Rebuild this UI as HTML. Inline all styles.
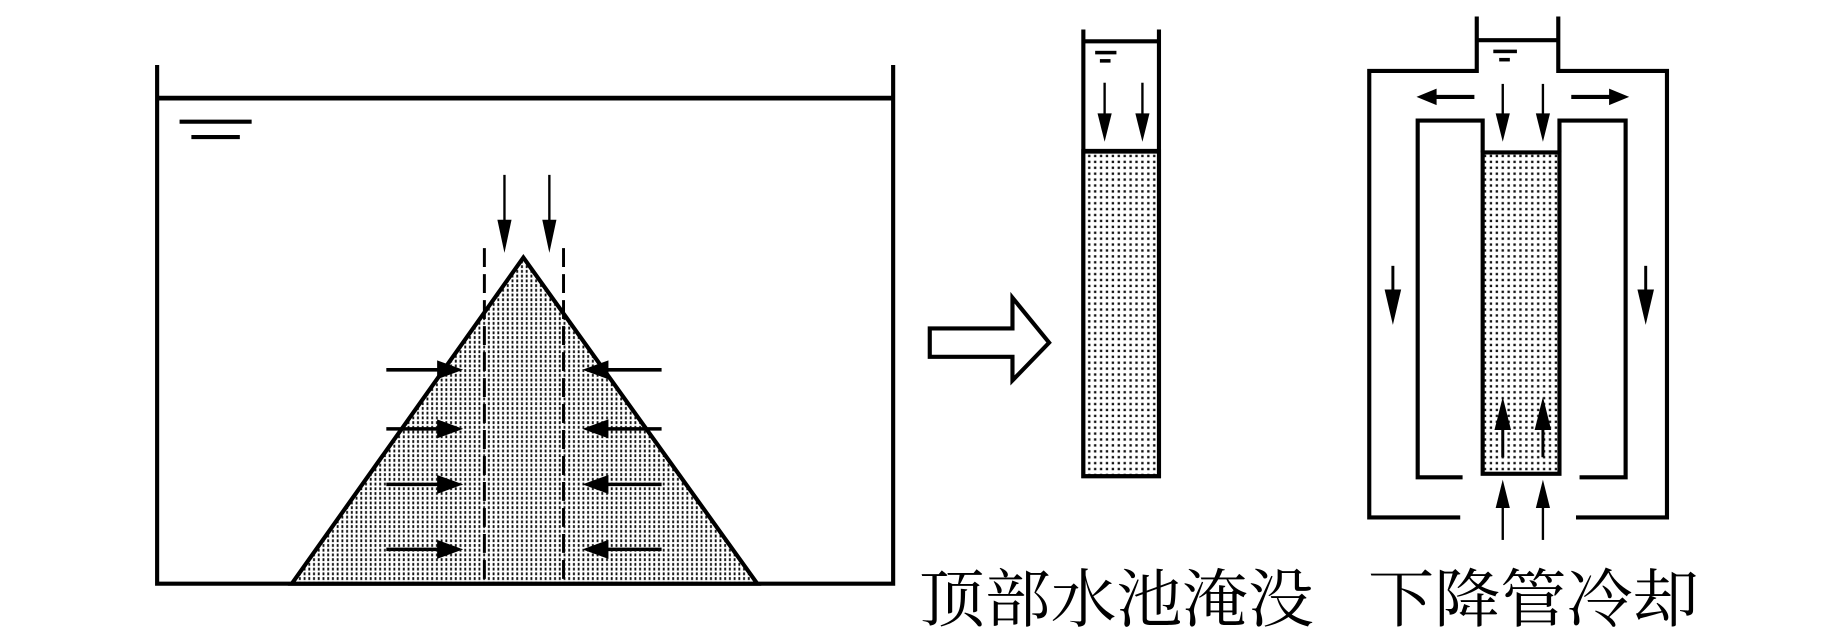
<!DOCTYPE html>
<html><head><meta charset="utf-8"><style>
html,body{margin:0;padding:0;background:#fff;width:1843px;height:638px;overflow:hidden}
svg{display:block}
</style></head><body>
<svg width="1843" height="638" viewBox="0 0 1560 540" xmlns="http://www.w3.org/2000/svg">
<defs>
<pattern id="d" width="4" height="4" patternUnits="userSpaceOnUse">
<rect width="4" height="4" fill="#fff"/>
<rect x="1" y="0.5" width="1.6" height="2.4" fill="#111"/>
</pattern>
<pattern id="e" width="5" height="5" patternUnits="userSpaceOnUse">
<rect width="5" height="5" fill="#fff"/>
<rect x="1" y="1" width="2" height="2" fill="#111"/>
</pattern>
</defs>
<g stroke="#000" fill="none" stroke-width="3.5">
<path d="M133 55 V494 H756 V55"/>
<line x1="133" y1="83" x2="756" y2="83" stroke-width="4"/>
<line x1="152" y1="103" x2="213" y2="103"/>
<line x1="162" y1="116" x2="203" y2="116"/>
<polygon points="443,218 247,494 641,494" fill="url(#d)"/>
<line x1="410" y1="210" x2="410" y2="494" stroke-dasharray="16,6" stroke-width="2.5"/>
<line x1="477" y1="210" x2="477" y2="494" stroke-dasharray="16,6" stroke-width="2.5"/>
<line x1="427" y1="148" x2="427" y2="190" stroke-width="2"/>
<line x1="465" y1="148" x2="465" y2="190" stroke-width="2"/>
<g stroke-width="3">
<line x1="327" y1="313" x2="372" y2="313"/><line x1="560" y1="313" x2="513" y2="313"/>
<line x1="327" y1="363" x2="372" y2="363"/><line x1="560" y1="363" x2="513" y2="363"/>
<line x1="327" y1="410" x2="372" y2="410"/><line x1="560" y1="410" x2="513" y2="410"/>
<line x1="327" y1="465" x2="372" y2="465"/><line x1="560" y1="465" x2="513" y2="465"/>
</g>
<polygon points="787,278 857,278 857,252 888,290 857,322 857,302 787,302" fill="#fff"/>
<path d="M917 25 V403 H981 V25"/>
<line x1="917" y1="35" x2="981" y2="35" stroke-width="3.5"/>
<rect x="917" y="128" width="64" height="275" fill="url(#e)"/>
<line x1="917" y1="128" x2="981" y2="128" stroke-width="4"/>
<line x1="935" y1="70" x2="935" y2="100" stroke-width="2"/>
<line x1="967" y1="70" x2="967" y2="100" stroke-width="2"/>
<path d="M1250 14 V60 H1159 V438 H1236"/>
<path d="M1319 14 V60 H1411 V438 H1334"/>
<line x1="1250" y1="34" x2="1319" y2="34"/>
<path d="M1238 404 H1200 V102 H1255 V129"/>
<path d="M1337 404 H1376 V102 H1320 V129"/>
<rect x="1255" y="129" width="65" height="272" fill="url(#e)"/>
<line x1="1248" y1="82" x2="1215" y2="82"/>
<line x1="1330" y1="82" x2="1363" y2="82"/>
<line x1="1272" y1="71" x2="1272" y2="100" stroke-width="2"/>
<line x1="1306" y1="71" x2="1306" y2="100" stroke-width="2"/>
<line x1="1179" y1="225" x2="1179" y2="248" stroke-width="2.5"/>
<line x1="1393" y1="225" x2="1393" y2="248" stroke-width="2.5"/>
<line x1="1272" y1="387" x2="1272" y2="360" stroke-width="2.5"/>
<line x1="1306" y1="387" x2="1306" y2="360" stroke-width="2.5"/>
<line x1="1272" y1="457" x2="1272" y2="428" stroke-width="2"/>
<line x1="1306" y1="457" x2="1306" y2="428" stroke-width="2"/>
</g>
<g fill="#000">
<polygon points="421,186 433,186 427,214"/><polygon points="459,186 471,186 465,214"/>
<polygon points="370,305 392,313 370,321"/><polygon points="515,305 493,313 515,321"/>
<polygon points="370,355 392,363 370,371"/><polygon points="515,355 493,363 515,371"/>
<polygon points="370,402 392,410 370,418"/><polygon points="515,402 493,410 515,418"/>
<polygon points="370,457 392,465 370,473"/><polygon points="515,457 493,465 515,473"/>
<rect x="927" y="43" width="18" height="3"/><rect x="931" y="50" width="9" height="3"/>
<polygon points="929,96 941,96 935,120"/><polygon points="961,96 973,96 967,120"/>
<rect x="1264" y="42" width="20" height="3"/><rect x="1269" y="49" width="9" height="3"/>
<polygon points="1216,75 1199,82 1216,89"/><polygon points="1362,75 1379,82 1362,89"/>
<polygon points="1266,96 1278,96 1272,120"/><polygon points="1300,96 1312,96 1306,120"/>
<polygon points="1172,245 1186,245 1179,275"/><polygon points="1386,245 1400,245 1393,275"/>
<polygon points="1265,364 1279,364 1272,336"/><polygon points="1299,364 1313,364 1306,336"/>
<polygon points="1266,430 1278,430 1272,406"/><polygon points="1300,430 1312,430 1306,406"/>
</g>
<g font-family="'Liberation Serif','Noto Serif CJK SC',serif" font-size="54" fill="#000">
<text x="778" y="526" textLength="334" lengthAdjust="spacingAndGlyphs">顶部水池淹没</text>
<text x="1158" y="526" textLength="280" lengthAdjust="spacingAndGlyphs">下降管冷却</text>
</g>
</svg>
</body></html>
